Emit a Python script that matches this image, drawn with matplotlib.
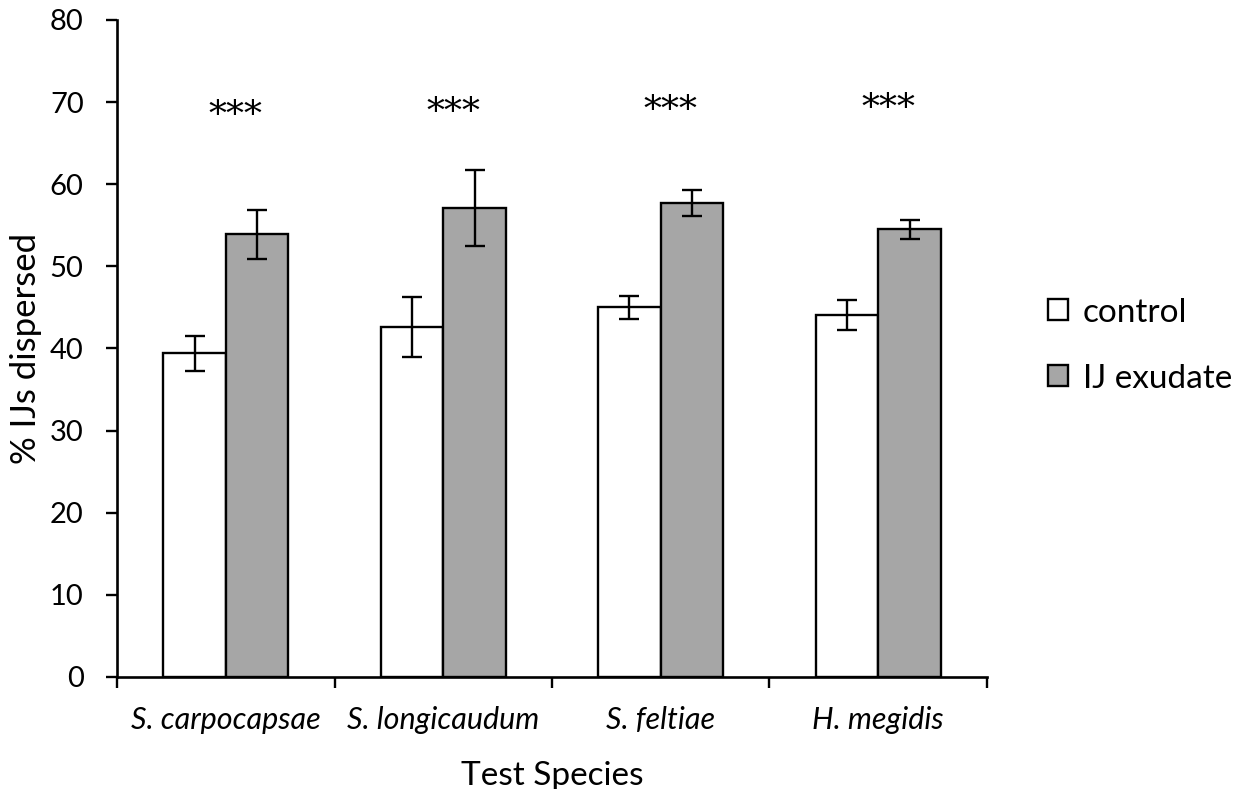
import matplotlib
matplotlib.use("Agg")
import matplotlib.pyplot as plt
import numpy as np

species = ["S. carpocapsae", "S. longicaudum", "S. feltiae", "H. megidis"]
control = [39.4, 42.6, 45.0, 44.1]
control_err = [2.1, 3.7, 1.4, 1.8]
exudate = [53.9, 57.1, 57.7, 54.5]
exudate_err = [3.0, 4.6, 1.6, 1.2]
sig_labels = ["***", "***", "***", "***"]
sig_y = [68.3, 68.7, 68.9, 69.1]

plt.rcParams["font.family"] = ["Lato", "DejaVu Sans"]

fig = plt.figure(figsize=(12.53, 7.89), dpi=100)
ax = fig.add_axes([0.0934, 0.142, 0.6943, 0.8327])

x = np.arange(len(species))
w = 0.2875
err_style = dict(ecolor="black", elinewidth=1.7, capsize=7, capthick=1.7)
ax.bar(x - w / 2, control, w, yerr=control_err, color="white", edgecolor="black",
       linewidth=1.7, label="control", error_kw=err_style)
ax.bar(x + w / 2, exudate, w, yerr=exudate_err, color="#a6a6a6", edgecolor="black",
       linewidth=1.7, label="IJ exudate", error_kw=err_style)

for xi, s, yy in zip(x, sig_labels, sig_y):
    ax.text(xi + 0.045, yy, s, ha="center", va="center", fontsize=26,
            family=["DejaVu Serif"])

ax.set_xlim(-0.5, len(species) - 0.5)
ax.set_ylim(0, 80)
ax.set_yticks(np.arange(0, 81, 10))
ax.tick_params(axis="y", labelsize=21, length=8, width=1.7, direction="out", pad=16)

# labels sit on the category centres, the tick marks on the boundaries
ax.set_xticks(x)
ax.set_xticklabels(species, fontsize=22, style="italic")
ax.set_xticks(np.arange(-0.5, len(species)), minor=True)
ax.tick_params(axis="x", which="major", length=0, pad=21)
ax.tick_params(axis="x", which="minor", length=8, width=1.7, direction="out")

for side in ("top", "right"):
    ax.spines[side].set_visible(False)
for side in ("left", "bottom"):
    ax.spines[side].set_linewidth(1.9)

ax.set_ylabel("% IJs dispersed", fontsize=25)
ax.yaxis.set_label_coords(-0.086, 0.5)
ax.set_xlabel("Test Species", fontsize=24, labelpad=19)

ax.legend(loc="center left", bbox_to_anchor=(0.823, 0.562), bbox_transform=fig.transFigure,
          frameon=False, fontsize=24, borderpad=0, handlelength=0.6, handleheight=0.6,
          handletextpad=0.45, labelspacing=1.08)

fig.savefig("out.png", dpi=100)
plt.close(fig)
